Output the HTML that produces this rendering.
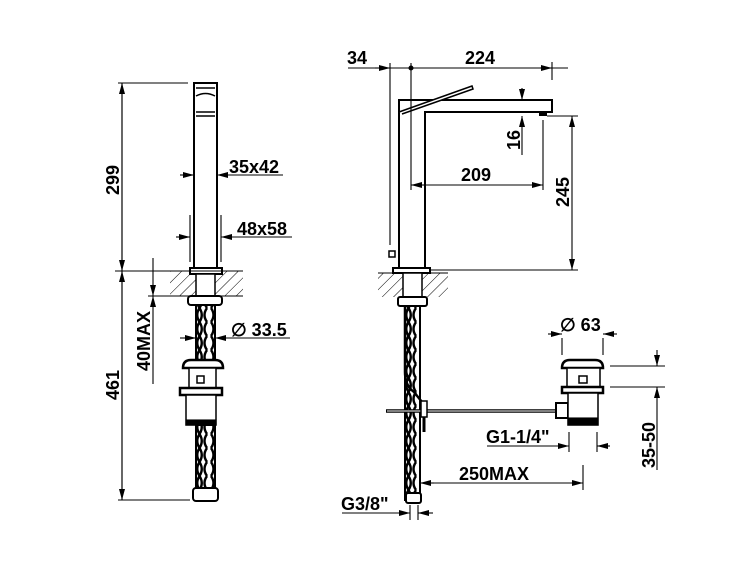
<!DOCTYPE html>
<html><head><meta charset="utf-8"><style>html,body{margin:0;padding:0;background:#fff}svg{display:block}text{font-family:"Liberation Sans",Arial,sans-serif;font-weight:bold;font-size:18px;fill:#000}</style></head><body>
<svg width="750" height="563" viewBox="0 0 750 563" xmlns="http://www.w3.org/2000/svg">
<defs>
<marker id="a" markerWidth="11" markerHeight="6" refX="11" refY="3" orient="auto" markerUnits="userSpaceOnUse"><path d="M0,0 L11,3 L0,6 Z" fill="#000"/></marker>
<pattern id="h" width="8" height="8" patternUnits="userSpaceOnUse" patternTransform="rotate(45)"><line x1="0" y1="0" x2="0" y2="8" stroke="#000" stroke-width="1"/></pattern>
<pattern id="hose" width="19" height="14" patternUnits="userSpaceOnUse"><rect width="19" height="14" fill="#fff"/><path d="M2,0 Q7,7 2,14 M17,0 Q12,7 17,14 M9.5,0 Q5,7 9.5,14 Q14,7 9.5,0" stroke="#000" stroke-width="2.4" fill="none"/></pattern>
</defs>
<g stroke="#000" fill="none" stroke-width="1.1">
<!-- LEFT VIEW -->
<rect x="170" y="271" width="73" height="25" fill="url(#h)" stroke="none"/>
<rect x="194" y="83" width="23" height="185" fill="#fff" stroke-width="2"/>
<path d="M196,88 h19 M196,96 q9.5,-5 19,0 M196,112 h19 M196,116 h19" stroke-width="1.5"/>
<rect x="190" y="268" width="32" height="6" fill="#fff" stroke-width="2"/>
<rect x="196" y="274" width="19" height="22" fill="#fff" stroke-width="1.5"/>
<rect x="188" y="296" width="34" height="9" rx="3" fill="#fff" stroke-width="2"/>
<rect x="196" y="305" width="19" height="55" fill="url(#hose)" stroke-width="2"/>
<path d="M183,368 q0,-8 8,-8 h24 q8,0 8,8 z" fill="#fff" stroke-width="2.5"/>
<rect x="189" y="368" width="27" height="20" fill="#fff" stroke-width="1.5"/>
<rect x="197" y="376" width="7" height="7" fill="#fff" stroke-width="1.5"/>
<rect x="180" y="388" width="42" height="7" fill="#fff" stroke-width="2.5"/>
<rect x="186" y="395" width="30" height="30" fill="#fff" stroke-width="1.5"/>
<rect x="186" y="420" width="30" height="5" fill="#000"/>
<rect x="196" y="425" width="19" height="65" fill="url(#hose)" stroke-width="2"/>
<rect x="193" y="488" width="25" height="13" rx="3" fill="#fff" stroke-width="2"/>
<line x1="115" y1="271" x2="243" y2="271"/>
<line x1="148" y1="296" x2="243" y2="296"/>
<line x1="118" y1="83" x2="188" y2="83"/>
<line x1="118" y1="500" x2="190" y2="500"/>
<line x1="122" y1="271" x2="122" y2="83" marker-end="url(#a)"/>
<line x1="122" y1="83" x2="122" y2="271" marker-end="url(#a)"/>
<line x1="122" y1="271" x2="122" y2="500" marker-end="url(#a)"/>
<line x1="122" y1="500" x2="122" y2="271" marker-end="url(#a)"/>
<line x1="153" y1="258" x2="153" y2="296" marker-end="url(#a)"/>
<line x1="153" y1="384" x2="153" y2="296" marker-end="url(#a)"/>
<line x1="180" y1="175" x2="194" y2="175" marker-end="url(#a)"/>
<line x1="283" y1="175" x2="217" y2="175" marker-end="url(#a)"/>
<line x1="190" y1="215" x2="190" y2="262"/><line x1="221" y1="215" x2="221" y2="262"/>
<line x1="176" y1="237" x2="190" y2="237" marker-end="url(#a)"/>
<line x1="292" y1="237" x2="221" y2="237" marker-end="url(#a)"/>
<line x1="180" y1="338" x2="196" y2="338" marker-end="url(#a)"/>
<line x1="290" y1="338" x2="215" y2="338" marker-end="url(#a)"/>
<!-- RIGHT VIEW -->
<rect x="378" y="273" width="70" height="24" fill="url(#h)" stroke="none"/>
<path d="M399,268 V100 H552 V112 H425 V268" fill="#fff" stroke-width="2"/>
<path d="M399,112 L472,86 L473,89 L402,114" fill="#fff" stroke-width="1.5"/>
<rect x="539" y="113" width="8" height="3" fill="#000" stroke="none"/>
<rect x="389" y="251" width="6" height="6" fill="#fff" stroke-width="1.5"/>
<rect x="393" y="268" width="37" height="5" fill="#fff" stroke-width="2"/>
<rect x="403" y="273" width="19" height="24" fill="#fff" stroke-width="1.5"/>
<rect x="398" y="297" width="29" height="9" rx="2" fill="#fff" stroke-width="2"/>
<rect x="405" y="306" width="15" height="194" fill="url(#hose)" stroke-width="2"/>
<path d="M405,306 V372 Q405,386 414,392 L422,402" stroke-width="2.5"/>
<line x1="386" y1="411" x2="556" y2="411" stroke-width="3.5"/>
<line x1="387" y1="411" x2="556" y2="411" stroke="#fff" stroke-width="1"/>
<rect x="421" y="401" width="6" height="16" fill="#fff" stroke-width="1.5"/>
<line x1="424" y1="417" x2="424" y2="432" stroke-width="3"/>
<rect x="556" y="403" width="12" height="15" fill="#fff" stroke-width="2"/>
<path d="M562,368 q0,-8 8,-8 h25 q8,0 8,8 z" fill="#fff" stroke-width="2.5"/>
<rect x="567" y="368" width="33" height="19" fill="#fff" stroke-width="1.5"/>
<rect x="579" y="376" width="8" height="7" fill="#fff" stroke-width="1.5"/>
<rect x="562" y="387" width="41" height="6" fill="#fff" stroke-width="2.5"/>
<rect x="568" y="393" width="30" height="32" fill="#fff" stroke-width="1.5"/>
<rect x="568" y="418" width="30" height="7" fill="#000"/>
<rect x="406" y="493" width="15" height="10" rx="2" fill="#fff" stroke-width="2"/>
<line x1="378" y1="273" x2="448" y2="273"/>
<!-- dims right -->
<line x1="348" y1="68" x2="568" y2="68"/>
<line x1="375" y1="68" x2="390" y2="68" marker-end="url(#a)"/>
<line x1="540" y1="68" x2="552" y2="68" marker-end="url(#a)"/>
<circle cx="411" cy="68" r="2" fill="#000"/>
<line x1="390" y1="63" x2="390" y2="245"/>
<line x1="411" y1="63" x2="411" y2="190"/>
<line x1="552" y1="62" x2="552" y2="80"/>
<line x1="522" y1="88" x2="522" y2="100" marker-end="url(#a)"/>
<line x1="522" y1="155" x2="522" y2="116" marker-end="url(#a)"/>
<line x1="543" y1="120" x2="543" y2="190"/>
<line x1="426" y1="185" x2="411" y2="185" marker-end="url(#a)"/>
<line x1="426" y1="185" x2="543" y2="185" marker-end="url(#a)"/>
<line x1="547" y1="116" x2="578" y2="116"/>
<line x1="430" y1="270" x2="578" y2="270"/>
<line x1="572" y1="190" x2="572" y2="116" marker-end="url(#a)"/>
<line x1="572" y1="190" x2="572" y2="270" marker-end="url(#a)"/>
<line x1="548" y1="334" x2="562" y2="334" marker-end="url(#a)"/>
<line x1="617" y1="334" x2="603" y2="334" marker-end="url(#a)"/>
<line x1="562" y1="338" x2="562" y2="355"/><line x1="603" y1="338" x2="603" y2="355"/>
<line x1="610" y1="366" x2="665" y2="366"/><line x1="610" y1="387" x2="665" y2="387"/>
<line x1="657" y1="350" x2="657" y2="366" marker-end="url(#a)"/>
<line x1="657" y1="470" x2="657" y2="387" marker-end="url(#a)"/>
<line x1="569" y1="432" x2="569" y2="452"/><line x1="597" y1="432" x2="597" y2="452"/>
<line x1="487" y1="446" x2="569" y2="446" marker-end="url(#a)"/>
<line x1="610" y1="446" x2="597" y2="446" marker-end="url(#a)"/>
<line x1="583" y1="465" x2="583" y2="490"/>
<line x1="434" y1="483" x2="420" y2="483" marker-end="url(#a)"/>
<line x1="420" y1="483" x2="583" y2="483" marker-end="url(#a)"/>
<line x1="410" y1="505" x2="410" y2="520"/><line x1="418" y1="505" x2="418" y2="520"/>
<line x1="342" y1="513" x2="410" y2="513" marker-end="url(#a)"/>
<line x1="433" y1="513" x2="418" y2="513" marker-end="url(#a)"/>
</g>
<text x="229" y="173">35x42</text>
<text x="237" y="235">48x58</text>
<text x="231" y="336">∅ 33.5</text>
<text transform="translate(119,180) rotate(-90)" text-anchor="middle">299</text>
<text transform="translate(119,385) rotate(-90)" text-anchor="middle">461</text>
<text transform="translate(150,341) rotate(-90)" text-anchor="middle">40MAX</text>
<text x="347" y="64">34</text>
<text x="465" y="64">224</text>
<text x="461" y="181">209</text>
<text transform="translate(520,140) rotate(-90)" text-anchor="middle">16</text>
<text transform="translate(569,192) rotate(-90)" text-anchor="middle">245</text>
<text x="560" y="331">∅ 63</text>
<text transform="translate(655,445) rotate(-90)" text-anchor="middle">35-50</text>
<text x="486" y="443">G1-1/4"</text>
<text x="459" y="480">250MAX</text>
<text x="341" y="510">G3/8"</text>
</svg>
</body></html>
